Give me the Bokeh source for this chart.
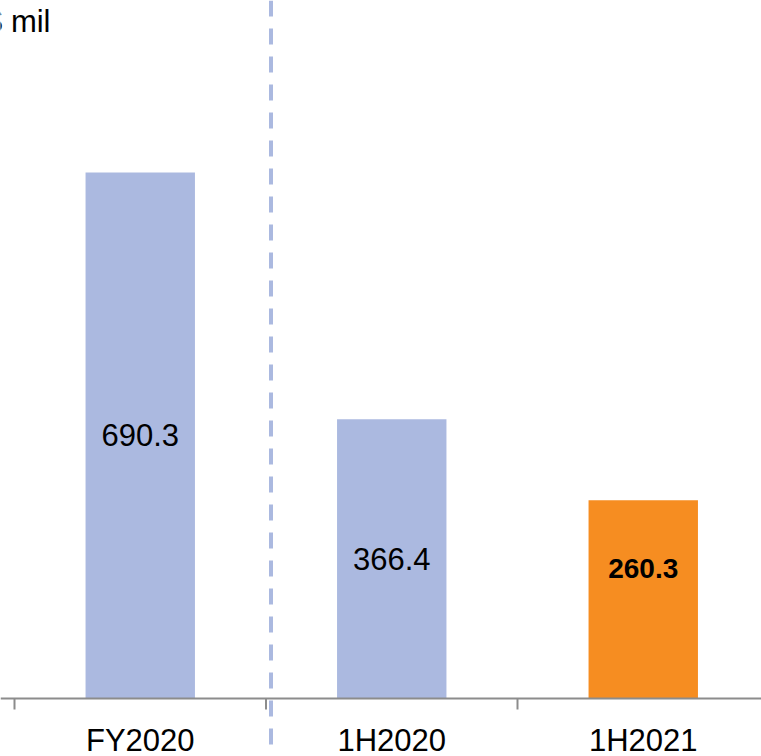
from bokeh.plotting import figure
from bokeh.models import Range1d, Span
from bokeh.embed import file_html
from bokeh.resources import INLINE
from bokeh.core.properties import value

# ---- data ----
categories = ["FY2020", "1H2020", "1H2021"]
values = [690.3, 366.4, 260.3]
value_labels = ["690.3", "366.4", "260.3"]
unit_label = "S$ mil"

# ---- styles ----
bar_colors = ["#ABB9E0", "#ABB9E0", "#F68D21"]
label_weights = ["normal", "normal", "bold"]
label_sizes = ["31px", "31px", "28px"]
label_y_offsets = [0, 0, -31]
FONT = "Liberation Sans"
AXIS_COLOR = "#8C8C8C"

PX_PER_X = 251.5
PX_PER_Y = 0.762
W, H = 761, 756
X0_PX = 14      # pixel of first category boundary
Y0_PX = 698     # pixel of baseline (from top)

x_start = -X0_PX / PX_PER_X
x_end = x_start + W / PX_PER_X
y_start = -(H - Y0_PX) / PX_PER_Y
y_end = Y0_PX / PX_PER_Y

n = len(categories)
x_pos = [i + 0.5 for i in range(n)]
bounds = list(range(n + 1))

p = figure(width=W, height=H, output_backend="svg", toolbar_location=None,
           x_range=Range1d(x_start, x_end), y_range=Range1d(y_start, y_end),
           x_axis_location=None, y_axis_location=None,
           min_border=0, min_border_left=0, min_border_right=0,
           min_border_top=0, min_border_bottom=0)
p.outline_line_color = None
p.grid.visible = False
p.background_fill_color = "white"

# bars
p.vbar(x=x_pos, top=values, bottom=0, width=0.435, fill_color=bar_colors,
       line_color=None)

# axis line and ticks
p.add_layout(Span(location=0, dimension="width", line_color=AXIS_COLOR,
                  line_width=2))
tick_len = 11 / PX_PER_Y
p.segment(x0=bounds, y0=[0] * len(bounds), x1=bounds,
          y1=[-tick_len] * len(bounds), line_color=AXIS_COLOR, line_width=2)

# dashed separator
p.add_layout(Span(location=1 + 5 / PX_PER_X, dimension="height",
                  line_color="#ABB9E0", line_width=4, line_dash="16 12"))

# category labels
p.text(x=x_pos, y=[0] * n, text=categories, y_offset=24,
       text_baseline="top", text_align="center",
       text_font=value(FONT), text_font_size="31px", text_color="black")

# value labels
for xi, v, lab, fw, fs, off in zip(x_pos, values, value_labels,
                                   label_weights, label_sizes, label_y_offsets):
    p.text(x=[xi], y=[v / 2], text=[lab], y_offset=off,
           text_baseline="middle", text_align="center",
           text_font=value(FONT), text_font_size=fs, text_font_style=fw,
           text_color="black")

# unit label at top-left
p.text(x=[50 / PX_PER_X + x_start], y=[(Y0_PX - 21) / PX_PER_Y], text=[unit_label],
       text_baseline="alphabetic", text_align="right",
       text_font=value(FONT), text_font_size="31px", text_color="black")

open("out.html", "w").write(file_html(p, INLINE))
